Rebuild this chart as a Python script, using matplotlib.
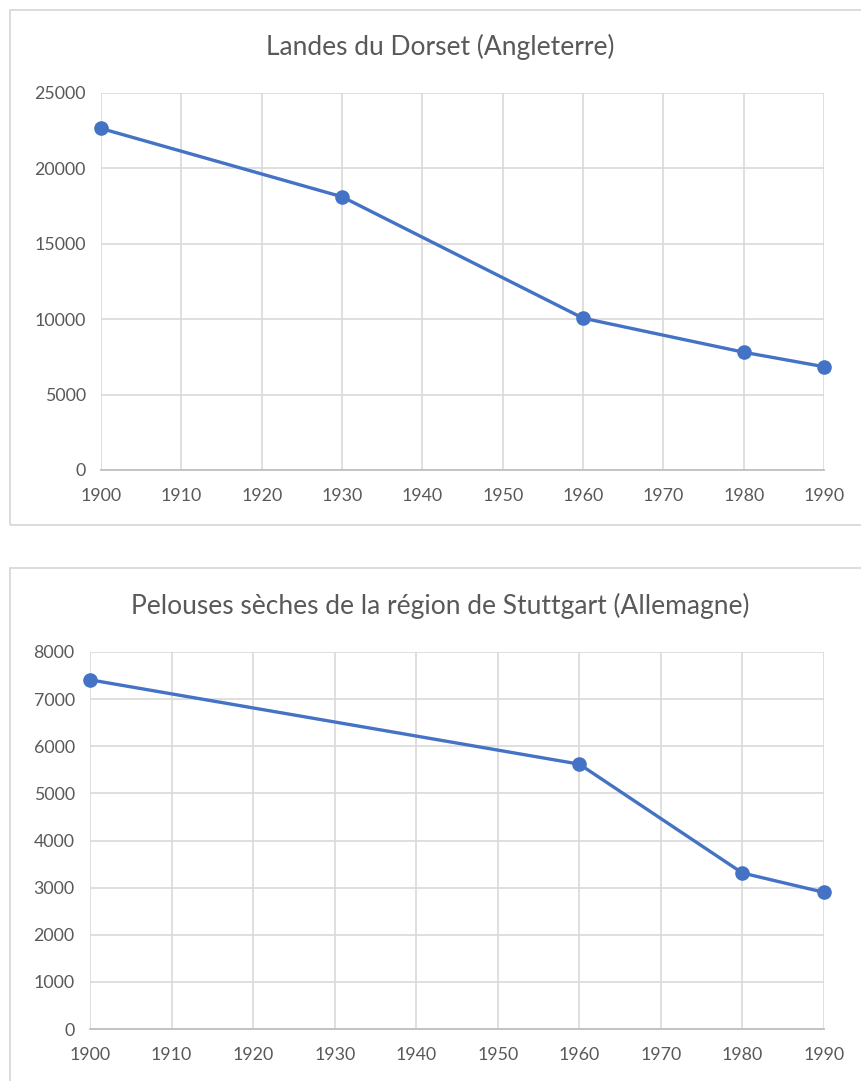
import matplotlib
matplotlib.use("Agg")
import matplotlib.pyplot as plt
from matplotlib.patches import Rectangle

plt.rcParams['font.family'] = ['Lato', 'DejaVu Sans']

years_dorset = [1900, 1930, 1960, 1980, 1990]
values_dorset = [22650, 18120, 10070, 7810, 6850]
title_dorset = "Landes du Dorset (Angleterre)"

years_stutt = [1900, 1960, 1980, 1990]
values_stutt = [7410, 5620, 3310, 2900]
title_stutt = "Pelouses sèches de la région de Stuttgart (Allemagne)"

xticks = list(range(1900, 1991, 10))
yticks_dorset = list(range(0, 25001, 5000))
yticks_stutt = list(range(0, 8001, 1000))

W, H = 861, 1081
fig = plt.figure(figsize=(W / 100, H / 100), dpi=100)
fig.patch.set_facecolor('white')

LINE = '#4472C4'
GRID = '#d9d9d9'
TXT = '#595959'


def px_axes(x0, y0, x1, y1):
    return fig.add_axes([x0 / W, 1 - y1 / H, (x1 - x0) / W, (y1 - y0) / H])


def box(x0, y0, x1, y1):
    fig.patches.append(Rectangle((x0 / W, 1 - y1 / H), (x1 - x0) / W, (y1 - y0) / H,
                                 transform=fig.transFigure, fill=False,
                                 edgecolor=GRID, linewidth=1.3))


def draw(ax, years, values, yticks, title, title_y):
    ax.plot(years, values, color=LINE, linewidth=2.4, marker='o', markersize=9.5,
            zorder=3, clip_on=False)
    ax.set_xlim(1900, 1990)
    ax.set_ylim(yticks[0], yticks[-1])
    ax.set_xticks(xticks)
    ax.set_yticks(yticks)
    ax.grid(True, color=GRID, linewidth=1.2)
    ax.set_axisbelow(True)
    for s in ['top', 'right', 'left']:
        ax.spines[s].set_visible(False)
    ax.spines['bottom'].set_color('#bfbfbf')
    ax.spines['bottom'].set_linewidth(1.3)
    ax.tick_params(length=0, labelsize=12.8, labelcolor=TXT)
    ax.tick_params(axis='x', pad=13)
    ax.tick_params(axis='y', pad=11)
    fig.text(440 / W, 1 - title_y / H, title, ha='center', va='center',
             fontsize=19, color=TXT)


box(10, 10, 875, 525)
box(10, 568, 875, 1095)

ax1 = px_axes(101, 93, 824, 470)
draw(ax1, years_dorset, values_dorset, yticks_dorset, title_dorset, 47)

ax2 = px_axes(90, 652, 824, 1029)
draw(ax2, years_stutt, values_stutt, yticks_stutt, title_stutt, 606)

fig.savefig('out.png', dpi=100, facecolor='white')
